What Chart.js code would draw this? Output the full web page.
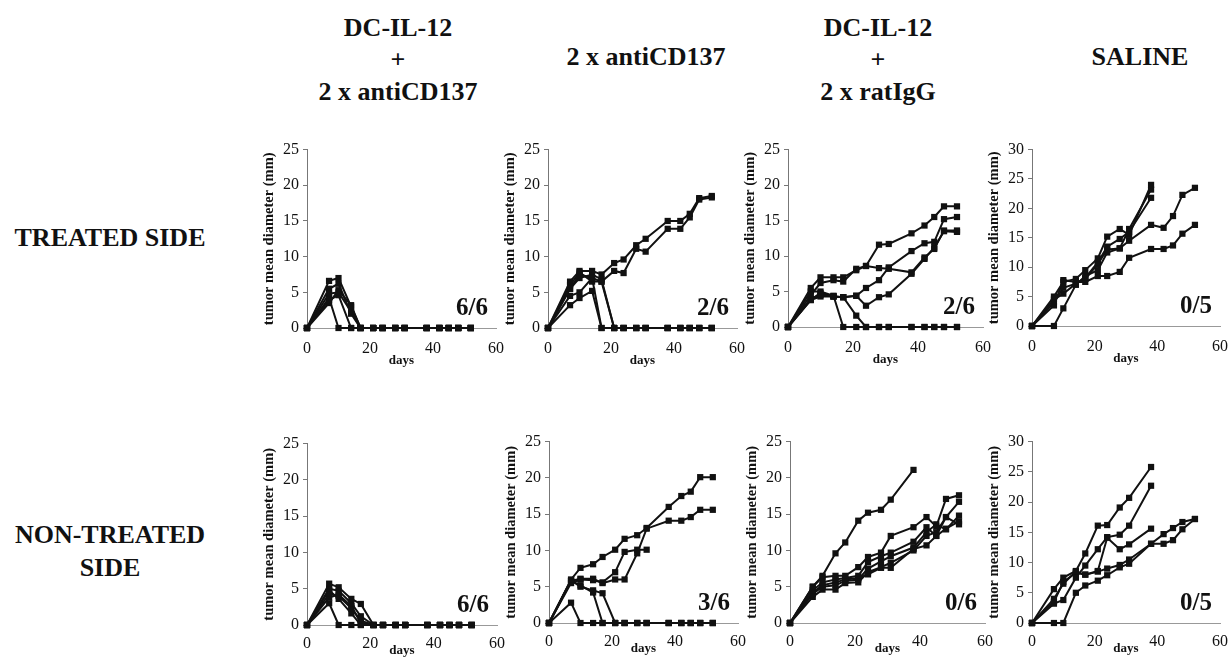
<!DOCTYPE html>
<html>
<head>
<meta charset="utf-8">
<script src="https://cdn.jsdelivr.net/npm/chart.js@4.4.0/dist/chart.umd.min.js"></script>
<style>
  body { margin: 0; background: #fff; width: 1228px; height: 664px; position: relative; overflow: hidden;
         font-family: "Liberation Serif", "Times New Roman", serif; }
  .lbl { position: absolute; font-weight: bold; font-size: 26px; color: #111; text-align: center;
         line-height: 32px; white-space: nowrap; transform: translateX(-50%); }
  canvas { position: absolute; }
</style>
</head>
<body>
<div class="lbl" style="left:398px;top:12px">DC-IL-12<br>+<br>2 x antiCD137</div>
<div class="lbl" style="left:646px;top:41px">2 x antiCD137</div>
<div class="lbl" style="left:878px;top:12px">DC-IL-12<br>+<br>2 x ratIgG</div>
<div class="lbl" style="left:1140px;top:41px">SALINE</div>
<div class="lbl" style="left:110px;top:222px">TREATED SIDE</div>
<div class="lbl" style="left:110px;top:518px;line-height:33px">NON-TREATED<br>SIDE</div>

<script>
// measurement days (shared by every mouse)
var days = [0, 7, 10, 14, 17, 21, 24, 28, 31, 38, 42, 45, 48, 52];
var _ = null;

// treated side
var treatedDcCd137 = [
  [0, 6.6, 7.0, 3.0, 0, 0, 0, 0, 0, 0, 0, 0, 0, 0],
  [0, 4.8, 5.0, 2.3, 0, 0, 0, 0, 0, 0, 0, 0, 0, 0],
  [0, 3.9, 4.6, 0, 0, 0, 0, 0, 0, 0, 0, 0, 0, 0],
  [0, 4.2, 0, 0, 0, 0, 0, 0, 0, 0, 0, 0, 0, 0],
  [0, 5.5, 6.2, 2.0, 0, 0, 0, 0, 0, 0, 0, 0, 0, 0],
  [0, 3.5, 5.3, 3.2, 0, 0, 0, 0, 0, 0, 0, 0, 0, 0]
];
var treatedCd137 = [
  [0, 6.5, 8.0, 8.0, 7.5, 9.1, 9.6, 11.6, 12.5, 15.0, 15.0, 16.0, 18.2, 18.5],
  [0, 5.5, 7.5, 7.0, 6.5, 8.0, 7.7, 11.1, 10.7, 13.9, 13.9, 15.5, 18.0, 18.3],
  [0, 3.2, 4.2, 5.2, 0, 0, 0, 0, 0, 0, 0, 0, 0, 0],
  [0, 4.5, 5.0, 7.0, 0, 0, 0, 0, 0, 0, 0, 0, 0, 0],
  [0, 5.5, 7.0, 7.5, 6.8, 0, 0, 0, 0, 0, 0, 0, 0, 0],
  [0, 6.0, 7.8, 6.5, 6.5, 0, 0, 0, 0, 0, 0, 0, 0, 0]
];
var treatedDcIgG = [
  [0, 5.5, 7.0, 7.0, 7.0, 8.0, 8.6, 11.6, 11.7, 13.2, 14.3, 15.5, 17.0, 17.0],
  [0, 4.5, 6.2, 6.6, 6.4, 8.2, 8.6, 8.3, 8.2, 7.7, 9.8, 11.0, 13.6, 13.6],
  [0, 4.0, 4.5, 4.3, 4.2, 4.4, 5.5, 6.6, 8.4, 10.7, 11.8, 12.0, 15.2, 15.5],
  [0, 3.8, 4.3, 4.3, 4.2, 4.4, 3.0, 4.2, 4.6, 7.5, 9.6, 11.2, 13.5, 13.4],
  [0, 5.0, 5.0, 4.4, 0, 0, 0, 0, 0, 0, 0, 0, 0, 0],
  [0, 3.8, 4.8, 4.3, 4.2, 1.6, 0, 0, 0, 0, 0, 0, 0, 0]
];
var treatedSaline = [
  [0, 5.0, 7.5, 8.0, 9.5, 11.5, 15.2, 16.5, 15.5, 24.0, _, _, _, _],
  [0, 4.0, 6.5, 7.2, 8.2, 10.8, 13.5, 14.8, 16.0, 21.8, _, _, _, _],
  [0, 4.5, 5.5, 7.2, 8.0, 10.5, 13.0, 13.2, 14.5, 17.2, 16.7, 18.7, 22.3, 23.5],
  [0, 3.5, 7.8, 7.5, 7.5, 8.5, 8.5, 9.2, 11.6, 13.1, 13.1, 13.7, 15.7, 17.2],
  [0, 0, 3.0, 7.0, 8.5, 9.5, 12.5, 13.2, 16.5, 23.2, _, _, _, _]
];

// non-treated side
var nonTreatedDcCd137 = [
  [0, 5.7, 5.2, 3.6, 2.9, 0, 0, 0, 0, 0, 0, 0, 0, 0],
  [0, 5.0, 4.7, 3.0, 1.2, 0, 0, 0, 0, 0, 0, 0, 0, 0],
  [0, 4.3, 4.0, 2.3, 0.6, 0, 0, 0, 0, 0, 0, 0, 0, 0],
  [0, 3.0, 0, 0, 0, 0, 0, 0, 0, 0, 0, 0, 0, 0],
  [0, 4.8, 3.6, 1.6, 0, 0, 0, 0, 0, 0, 0, 0, 0, 0],
  [0, 3.8, 4.2, 2.6, 0.3, 0, 0, 0, 0, 0, 0, 0, 0, 0]
];
var nonTreatedCd137 = [
  [0, 6.0, 7.6, 8.1, 9.1, 10.1, 11.6, 12.1, 13.1, 16.0, 17.5, 18.1, 20.1, 20.1],
  [0, 5.8, 6.1, 6.1, 5.5, 6.0, 6.0, 9.6, 13.0, 14.1, 14.1, 14.6, 15.6, 15.6],
  [0, 5.5, 6.0, 5.9, 5.6, 7.0, 9.8, 10.1, 10.1, _, _, _, _, _],
  [0, 2.8, 0, 0, 0, 0, 0, 0, 0, 0, 0, 0, 0, 0],
  [0, 5.8, 5.2, 4.2, 0, 0, 0, 0, 0, 0, 0, 0, 0, 0],
  [0, 5.9, 5.0, 4.5, 4.1, 0, 0, 0, 0, 0, 0, 0, 0, 0]
];
var nonTreatedDcIgG = [
  [0, 5.0, 6.5, 9.6, 11.1, 14.1, 15.2, 15.6, 17.0, 21.1, _, _, _, _],
  [0, 5.0, 6.3, 6.5, 6.5, 7.7, 9.1, 9.7, 12.0, 13.2, 14.6, 13.3, 17.1, 17.6],
  [0, 4.5, 5.6, 6.0, 6.2, 6.5, 8.4, 9.2, 9.7, 11.2, 13.2, 12.0, 14.6, 16.7],
  [0, 4.0, 5.0, 5.2, 5.8, 6.0, 7.5, 8.5, 9.2, 10.4, 12.5, 13.6, 12.9, 14.8],
  [0, 3.6, 4.6, 4.6, 5.5, 5.6, 7.0, 7.7, 8.3, 10.0, 12.0, 12.5, 14.6, 13.6],
  [0, 4.2, 5.2, 5.6, 6.0, 6.2, 6.7, 7.6, 7.6, 10.2, 10.7, 12.0, 13.0, 14.0]
];
var nonTreatedSaline = [
  [0, 5.6, 7.5, 8.6, 11.5, 16.1, 16.2, 19.1, 20.7, 25.8, _, _, _, _],
  [0, 3.2, 3.8, 7.5, 9.5, 12.2, 14.2, 14.6, 16.1, 22.7, _, _, _, _],
  [0, 4.0, 6.5, 8.5, 8.0, 8.6, 14.1, 12.2, 13.0, 15.6, _, _, _, _],
  [0, 0, 0, 5.0, 6.2, 7.0, 7.9, 9.2, 9.8, 13.1, 13.1, 13.7, 15.5, 17.2],
  [0, 3.5, 6.8, 8.3, 8.0, 8.5, 9.0, 9.6, 10.5, 13.1, 14.7, 15.7, 16.7, 17.2]
];

// cured / total per panel
var curedTreated = ['6/6', '2/6', '2/6', '0/5'];
var curedNonTreated = ['6/6', '3/6', '0/6', '0/5'];
var yMaxByColumn = [25, 25, 25, 30];

// plot-area boxes on the page
var panels = [
  { mice: treatedDcCd137, cured: curedTreated[0], yMax: yMaxByColumn[0], row: 0, left: 307, right: 496, top: 148, bottom: 328 },
  { mice: treatedCd137, cured: curedTreated[1], yMax: yMaxByColumn[1], row: 0, left: 548, right: 737, top: 148, bottom: 328 },
  { mice: treatedDcIgG, cured: curedTreated[2], yMax: yMaxByColumn[2], row: 0, left: 788, right: 983, top: 148, bottom: 327 },
  { mice: treatedSaline, cured: curedTreated[3], yMax: yMaxByColumn[3], row: 0, left: 1032, right: 1220, top: 148, bottom: 326 },
  { mice: nonTreatedDcCd137, cured: curedNonTreated[0], yMax: yMaxByColumn[0], row: 1, left: 307, right: 497, top: 442, bottom: 625 },
  { mice: nonTreatedCd137, cured: curedNonTreated[1], yMax: yMaxByColumn[1], row: 1, left: 549, right: 738, top: 440, bottom: 623 },
  { mice: nonTreatedDcIgG, cured: curedNonTreated[2], yMax: yMaxByColumn[2], row: 1, left: 790, right: 985, top: 440, bottom: 623 },
  { mice: nonTreatedSaline, cured: curedNonTreated[3], yMax: yMaxByColumn[3], row: 1, left: 1032, right: 1220, top: 440, bottom: 623 }
];

var serif = '"Liberation Serif", "Times New Roman", serif';

// big "cured/total" text in the lower right of each plot
var fractionLabel = {
  id: 'fractionLabel',
  afterDatasetsDraw: function (chart, args, opts) {
    var ctx = chart.ctx, area = chart.chartArea;
    ctx.save();
    ctx.font = 'bold 25px ' + serif;
    ctx.fillStyle = '#111';
    ctx.textAlign = 'right';
    ctx.textBaseline = 'alphabetic';
    ctx.fillText(opts.text, area.right - 8, area.bottom - 13);
    ctx.restore();
  }
};

function toPoints(values) {
  var pts = [];
  values.forEach(function (v, i) {
    if (v !== null) pts.push({ x: days[i], y: v });
  });
  return pts;
}

function makePanel(p) {
  var padT = 12, padR = 16, yW = 50;
  var xH = p.row === 0 ? 40 : 34;
  var canvas = document.createElement('canvas');
  canvas.width = yW + (p.right - p.left) + padR;
  canvas.height = padT + (p.bottom - p.top) + xH;
  canvas.style.left = (p.left - yW) + 'px';
  canvas.style.top = (p.top - padT) + 'px';
  document.body.appendChild(canvas);

  var datasets = p.mice.map(function (m) {
    return {
      data: toPoints(m),
      borderColor: '#111',
      borderWidth: 2,
      backgroundColor: '#111',
      pointStyle: 'rect',
      pointRadius: 4.4,
      pointBorderWidth: 0,
      tension: 0,
      clip: false
    };
  });

  new Chart(canvas.getContext('2d'), {
    type: 'line',
    data: { datasets: datasets },
    options: {
      responsive: false,
      animation: false,
      devicePixelRatio: 1,
      layout: { padding: { top: padT, right: padR, left: 0, bottom: 0 } },
      plugins: {
        legend: { display: false },
        tooltip: { enabled: false },
        fractionLabel: { text: p.cured }
      },
      scales: {
        x: {
          type: 'linear',
          min: 0, max: 60,
          afterFit: function (s) { s.height = xH; },
          grid: { display: false },
          border: { display: true, color: '#999', width: 1, dash: [2, 2] },
          ticks: { stepSize: 20, padding: p.row === 0 ? 3 : 1, color: '#111', font: { family: serif, size: 16 } },
          title: { display: true, text: 'days', color: '#111', padding: { top: 0, bottom: p.row === 0 ? 0 : 1 },
                   font: { family: serif, size: 13, weight: 'bold' } }
        },
        y: {
          min: 0, max: p.yMax,
          afterFit: function (s) { s.width = yW; },
          grid: { display: true, drawOnChartArea: false, drawTicks: true, tickLength: 4, color: '#777' },
          border: { display: true, color: '#777', width: 1 },
          ticks: { stepSize: 5, padding: 4, color: '#111', font: { family: serif, size: 16 } },
          title: { display: true, text: 'tumor mean diameter (mm)', color: '#111', padding: { top: 4, bottom: 0 },
                   font: { family: serif, size: 14.5, weight: 'bold' } }
        }
      }
    },
    plugins: [fractionLabel]
  });
}

panels.forEach(makePanel);
</script>
</body>
</html>
